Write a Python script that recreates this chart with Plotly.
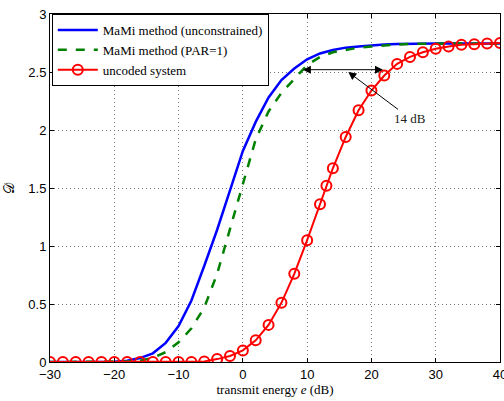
import plotly.graph_objects as go

# ---- data ----
x_mami = [-30, -28, -26, -24, -22, -20, -18, -16, -14, -12, -10, -8, -6, -4, -2, 0, 2, 4, 6, 8,
          10, 12, 14, 16, 18, 20, 22, 24, 26, 28, 30, 32, 34, 36, 38, 40]
y_unconstrained = [0, 0, 0, 0, 0.001, 0.003, 0.01, 0.034, 0.075, 0.165, 0.31, 0.53, 0.83, 1.14, 1.48,
                   1.82, 2.07, 2.28, 2.43, 2.53, 2.61, 2.66, 2.69, 2.71, 2.72, 2.73, 2.737, 2.742,
                   2.745, 2.745, 2.745, 2.745, 2.745, 2.745, 2.745, 2.745]
y_par1 = [0, 0, 0, 0, 0, 0.001, 0.004, 0.012, 0.035, 0.085, 0.17, 0.29, 0.47, 0.76, 1.15,
          1.55, 1.92, 2.16, 2.32, 2.44, 2.56, 2.63, 2.67, 2.69, 2.71, 2.72, 2.73, 2.737,
          2.742, 2.745, 2.745, 2.745, 2.745, 2.745, 2.745, 2.745]

x_uncoded = [-30, -28, -26, -24, -22, -20, -18, -16, -14, -12, -10, -8, -6, -4, -2, 0, 2, 4, 6, 8,
             10, 12, 13, 14, 16, 18, 20, 22, 24, 26, 28, 30, 32, 34, 36, 38, 40]
y_uncoded = [0, 0, 0, 0, 0, 0, 0, 0, 0, 0, 0, 0.001, 0.005, 0.025, 0.052, 0.10, 0.187, 0.32, 0.51,
             0.76, 1.05, 1.36, 1.52, 1.67, 1.94, 2.17, 2.34, 2.47, 2.57, 2.63, 2.67, 2.70, 2.72,
             2.735, 2.74, 2.745, 2.75]

x_ticks = [-30, -20, -10, 0, 10, 20, 30, 40]
y_ticks = [0, 0.5, 1, 1.5, 2, 2.5, 3]

# annotation anchors (data units)
gap_y = 2.52
gap_left = 9.1
gap_right = 21.8
label_text = "14 dB"
label_pos = (26.0, 2.10)
label_target = (16.4, 2.50)

serif = "Liberation Serif, Times New Roman, serif"
sans = "Liberation Sans, Arial, sans-serif"

fig = go.Figure()
fig.add_trace(go.Scatter(x=x_mami, y=y_unconstrained, mode="lines",
                         name="MaMi method (unconstrained)",
                         line=dict(color="#0000ff", width=2.5)))
fig.add_trace(go.Scatter(x=x_mami, y=y_par1, mode="lines",
                         name="MaMi method (PAR=1)",
                         line=dict(color="#008000", width=2.5, dash="dash")))
fig.add_trace(go.Scatter(x=x_uncoded, y=y_uncoded, mode="lines+markers",
                         name="uncoded system",
                         line=dict(color="#ff0000", width=2),
                         marker=dict(symbol="circle-open", size=10, color="#ff0000",
                                     line=dict(width=2, color="#ff0000"))))

# double-headed arrow
fig.add_annotation(x=gap_right, y=gap_y, ax=gap_left, ay=gap_y, xref="x", yref="y",
                   axref="x", ayref="y", text="", showarrow=True, arrowhead=2,
                   arrowside="end+start", arrowsize=1.6, arrowwidth=1, arrowcolor="black")
# label arrow
fig.add_annotation(x=label_target[0], y=label_target[1], ax=label_pos[0], ay=label_pos[1],
                   xref="x", yref="y", axref="x", ayref="y", text=label_text,
                   showarrow=True, arrowhead=2, arrowsize=1.6, arrowwidth=1,
                   arrowcolor="black", font=dict(family=serif, size=13, color="#222"))

axis_common = dict(showline=True, linecolor="black", linewidth=1, mirror="ticks",
                   ticks="inside", ticklen=4, tickcolor="black",
                   showgrid=True, gridcolor="#777", griddash="1px,3px", gridwidth=1,
                   zeroline=False, ticklabeloverflow="allow", automargin=False,
                   tickfont=dict(family=sans, size=13, color="black"))

fig.update_xaxes(range=[-30, 40], tickvals=x_ticks, **axis_common,
                 title=dict(text="transmit energy <i>e</i> (dB)",
                            font=dict(family=serif, size=13, color="black"), standoff=4))
fig.update_yaxes(range=[0, 3], tickvals=y_ticks, **axis_common,
                 title=dict(text="𝒟", font=dict(family=serif, size=14, color="black"),
                            standoff=10))

fig.update_layout(
    width=504, height=401,
    margin=dict(l=50, r=4, t=14, b=39),
    paper_bgcolor="white", plot_bgcolor="white",
    showlegend=True,
    legend=dict(x=0.004, y=1, xanchor="left", yanchor="top",
                bgcolor="white", bordercolor="black", borderwidth=1,
                font=dict(family=serif, size=13, color="black"),
                itemwidth=40, tracegroupgap=0),
)

fig.write_html("out.html", config={"displayModeBar": False},
               post_script="document.body.style.margin='0';document.body.style.overflow='hidden';")
